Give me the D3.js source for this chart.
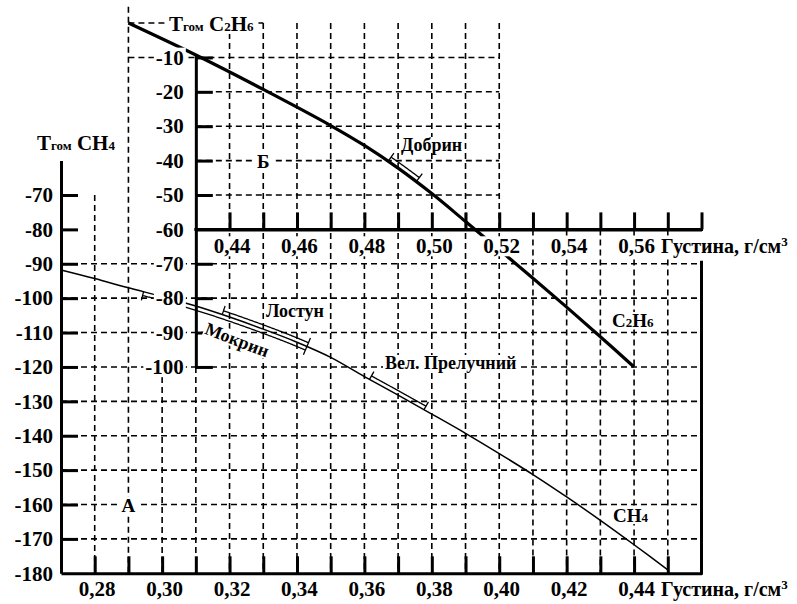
<!DOCTYPE html>
<html><head><meta charset="utf-8">
<script src="https://cdn.jsdelivr.net/npm/d3@7"></script>
<style>
body{margin:0;background:#fff}
svg{display:block;background:#fff}
text{font-family:"Liberation Serif","Times New Roman",serif;font-weight:bold;fill:#000}
</style>
</head><body>
<svg id="c" width="797" height="604"></svg>
<script>
// ---------- data ----------
const ch4Density = [0.27,0.28,0.29,0.30,0.31,0.32,0.33,0.34,0.35,0.36,0.37,0.38,0.39,0.40,0.41,0.42,0.43,0.44,0.45];
const ch4Temp    = [-91.8,-94.3,-97,-99.5,-102.3,-105.5,-109,-112.8,-117.2,-122.8,-128.2,-133.7,-139.3,-145.2,-151.3,-157.8,-164.6,-171.7,-179];
const c2h6Density = [0.41,0.43,0.45,0.47,0.48,0.49,0.50,0.51,0.52,0.53,0.54,0.55,0.56];
const c2h6Temp    = [0,-9.3,-19.3,-29.8,-35.6,-42.2,-49.6,-57.7,-65.9,-74.2,-82.6,-91.2,-100];

const aTempTicks = [-70,-80,-90,-100,-110,-120,-130,-140,-150,-160,-170,-180];
const aDensityTicks = [0.28,0.29,0.30,0.31,0.32,0.33,0.34,0.35,0.36,0.37,0.38,0.39,0.40,0.41,0.42,0.43,0.44,0.45];
const aDensityLabels = {"0.28":"0,28","0.3":"0,30","0.32":"0,32","0.34":"0,34","0.36":"0,36","0.38":"0,38","0.4":"0,40","0.42":"0,42","0.44":"0,44"};
const bTempTicks = [-10,-20,-30,-40,-50,-60,-70,-80,-90,-100];
const bDensityTicks = [0.44,0.45,0.46,0.47,0.48,0.49,0.50,0.51,0.52,0.53,0.54,0.55,0.56,0.57,0.58];
const bDensityLabels = {"0.44":"0,44","0.46":"0,46","0.48":"0,48","0.5":"0,50","0.52":"0,52","0.54":"0,54","0.56":"0,56"};

const bandNames  = ["Мокрин","Лостун","Вел. Прелучний","Добрин"];
const bandCurve  = ["CH4","CH4","CH4","C2H6"];
const bandFrom   = [0.2943,0.3178,0.3614,0.487];
const bandTo     = [0.343,0.343,0.3777,0.4955];
const bandSide   = [-1,1,1,1];

// ---------- scales ----------
const xA = d3.scaleLinear().domain([0.27,0.46]).range([61,701.5]);
const yA = d3.scaleLinear().domain([-180,-60]).range([573.3,160.6]);
const xB = d3.scaleLinear().domain([0.43,0.58]).range([xA(0.31),xA(0.46)]);
const yB = d3.scaleLinear().domain([-100,0]).range([yA(-120),yA(-20)]);

const svg = d3.select("#c");
const grid = svg.append("g").attr("stroke","#000").attr("stroke-width",1.6).attr("stroke-dasharray","6,4").attr("fill","none");

// ---------- grid: A region ----------
function aTop(d){
  if (d < 0.285) return yA(-70);
  if (d < 0.295) return yB(4.7);
  if (d < 0.315) return yA(-120);
  if (d < 0.405) return yB(0);
  return yB(-60);
}
grid.selectAll("line.va").data(aDensityTicks).join("line").attr("class","va")
  .attr("x1",d=>xA(d)).attr("x2",d=>xA(d)).attr("y1",d=>aTop(d)).attr("y2",yA(-180));
const aHoriz = [-90,-100,-110,-120,-130,-140,-150,-160,-170];
grid.selectAll("line.ha").data(aHoriz).join("line").attr("class","ha")
  .attr("x1",xA(0.27)).attr("x2",xA(0.46)).attr("y1",d=>yA(d)).attr("y2",d=>yA(d));
// ---------- grid: B region ----------
const bHoriz = [0,-10,-20,-30,-40,-50];
grid.selectAll("line.hb").data(bHoriz).join("line").attr("class","hb")
  .attr("x1",d=>xB(d>=-10?0.41:0.43)).attr("x2",d=>xB(d===0?0.45:0.52))
  .attr("y1",d=>yB(d)).attr("y2",d=>yB(d));

// ---------- curves ----------
const line = (xs,ys) => d3.line().x(d=>xs(d[0])).y(d=>ys(d[1])).curve(d3.curveCatmullRom.alpha(0.5));
const ch4Pts = ch4Density.map((d,i)=>[d,ch4Temp[i]]);
const c2h6Pts = c2h6Density.map((d,i)=>[d,c2h6Temp[i]]);
const ch4Path = svg.append("path").datum(ch4Pts).attr("d",line(xA,yA)).attr("fill","none").attr("stroke","#000").attr("stroke-width",1.5);
const c2h6Path = svg.append("path").datum(c2h6Pts).attr("d",line(xB,yB)).attr("fill","none").attr("stroke","#000").attr("stroke-width",3.2);

function band(pathNode, px0, px1, side, off){
  const L = pathNode.getTotalLength(), N = 800, pts=[];
  for(let i=0;i<=N;i++){const p=pathNode.getPointAtLength(L*i/N);pts.push([p.x,p.y]);}
  const sel=[];
  for(let i=0;i<pts.length;i++){
    if(pts[i][0]>=px0 && pts[i][0]<=px1){
      const a=pts[Math.max(0,i-1)], b=pts[Math.min(pts.length-1,i+1)];
      let dx=b[0]-a[0], dy=b[1]-a[1]; const l=Math.hypot(dx,dy)||1; dx/=l; dy/=l;
      sel.push({p:pts[i], n:[dy*side,-dx*side]});
    }
  }
  const g = svg.append("g").attr("stroke","#000").attr("stroke-width",1.3).attr("fill","none");
  g.append("path").attr("d",d3.line()(sel.map(s=>[s.p[0]+s.n[0]*off,s.p[1]+s.n[1]*off])));
  [sel[0], sel[sel.length-1]].forEach(s=>{
    g.append("line").attr("x1",s.p[0]).attr("y1",s.p[1])
      .attr("x2",s.p[0]+s.n[0]*(off+5)).attr("y2",s.p[1]+s.n[1]*(off+5));
  });
}
bandNames.forEach((n,i)=>{
  if(bandCurve[i]==="CH4") band(ch4Path.node(), xA(bandFrom[i]), xA(bandTo[i]), bandSide[i], 4);
  else band(c2h6Path.node(), xB(bandFrom[i]), xB(bandTo[i]), bandSide[i], 5);
});

// ---------- helpers ----------
function bg(textSel,pad){
  textSel.each(function(){
    const b=this.getBBox(); const node=this;
    d3.select(this.parentNode).insert("rect",()=>node)
      .attr("x",b.x-pad).attr("y",b.y+2).attr("width",b.width+2*pad).attr("height",b.height-4).attr("fill","#fff");
  });
}
function styleAxis(g,fs){
  g.attr("font-family","'Liberation Serif','Times New Roman',serif").attr("font-size",fs).attr("font-weight","bold");
  g.selectAll("path.domain").attr("stroke-width",3).attr("stroke","#000");
  g.selectAll(".tick line").attr("stroke-width",3).attr("stroke","#000");
  g.selectAll(".tick text").attr("fill","#000");
}

// ---------- axes ----------
const gAy = svg.append("g").attr("transform",`translate(${xA(0.27)},0)`)
  .call(d3.axisLeft(yA).tickValues(aTempTicks).tickSize(-17).tickSizeOuter(0).tickPadding(8).tickFormat(d=>String(d)));
styleAxis(gAy,21);
gAy.selectAll(".tick").filter(d=>d===-180).select("line").remove();

const gAx = svg.append("g").attr("transform",`translate(0,${yA(-180)})`)
  .call(d3.axisBottom(xA).tickValues(aDensityTicks).tickSize(-17).tickSizeOuter(0).tickPadding(8)
    .tickFormat(d=>aDensityLabels[String(+d.toFixed(2))]||""));
styleAxis(gAx,21);
gAx.selectAll(".tick text").attr("dx",2);

// right frame of A
svg.append("line").attr("x1",xA(0.46)).attr("x2",xA(0.46)).attr("y1",yA(-90)-3).attr("y2",yA(-180)+1.5)
  .attr("stroke","#000").attr("stroke-width",3);

const yBaxis = yB.copy().domain([-100,-9]).range([yB(-100),yB(-9)]);
const gBy = svg.append("g").attr("transform",`translate(${xB(0.43)},0)`)
  .call(d3.axisLeft(yBaxis).tickValues(bTempTicks).tickSize(-17).tickSizeOuter(0).tickPadding(12).tickFormat(d=>String(d)));
styleAxis(gBy,21);
gBy.selectAll(".tick").filter(d=>d===-60).select("line").remove();
bg(gBy.selectAll(".tick text"),2);

const gBx = svg.append("g").attr("transform",`translate(0,${yB(-60)})`)
  .call(d3.axisBottom(xB).tickValues(bDensityTicks).tickSize(-17).tickSizeOuter(0).tickPadding(9)
    .tickFormat(d=>bDensityLabels[String(+d.toFixed(2))]||""));
styleAxis(gBx,21);
gBx.selectAll(".tick text").attr("dx",2);
bg(gBx.selectAll(".tick text").filter(function(){return this.textContent!=="";}),3);
svg.append("line").attr("x1",xB(0.43)-1.5).attr("x2",xB(0.58)+1.5).attr("y1",yB(-60)).attr("y2",yB(-60))
  .attr("stroke","#000").attr("stroke-width",3);

// ---------- annotation text ----------
const ann = svg.append("g");
function addText(x,y,parts,fs,anchor){
  const t = ann.append("text").attr("x",x).attr("y",y).attr("font-size",fs).attr("text-anchor",anchor||"start");
  parts.forEach(p=>{
    const s=t.append("tspan").text(p[0]);
    if(p[1]) s.attr("font-size",p[1]);
    if(p[2]) s.attr("baseline-shift",p[2]);
  });
  return t;
}
const unitA = addText(661,yA(-180)+23,[["Густина, г/см"],["3",13,"super"]],20);
const unitB = addText(661,yB(-60)+24,[["Густина, г/см"],["3",13,"super"]],20);
bg(unitB,2);
const tCH4 = addText(37,150,[["T"],["гом",13],[" CH"],["4",13]],21);
const tC2H6 = addText(169,31,[["T"],["гом",13],[" C"],["2",13],["H"],["6",13]],21);
bg(tC2H6,2);
const lB = addText(xB(0.45),yB(-40)+7,[["Б"]],19,"middle"); bg(lB,3);
const lA = addText(xA(0.29),yA(-160)+7,[["А"]],19,"middle"); bg(lA,3);
const lDob = addText(401,151,[["Добрин"]],18); bg(lDob,1);
const lLos = addText(266,317,[["Лостун"]],18); bg(lLos,1);
const lVel = addText(385,369,[["Вел. Прелучний"]],18); bg(lVel,2);
const lC2 = addText(612,327,[["C"],["2",13],["H"],["6",13]],19); bg(lC2,2);
const lC1 = addText(613,522,[["CH"],["4",13]],19); bg(lC1,2);
const mg = ann.append("g").attr("transform","translate(237,340) rotate(21)");
const lMok = mg.append("text").attr("x",0).attr("y",6).attr("font-size",18).attr("text-anchor","middle").text("Мокрин");
bg(lMok,1);
</script>
</body></html>
